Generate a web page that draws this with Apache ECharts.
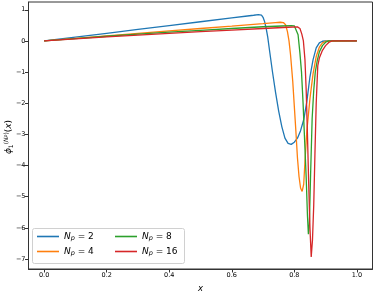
<!DOCTYPE html>
<html><head><meta charset="utf-8">
<script src="https://cdn.jsdelivr.net/npm/echarts@6/dist/echarts.min.js"></script>
<style>html,body{margin:0;padding:0;background:#fff}#c{width:374px;height:291px}</style>
</head><body><div id="c"></div>
<script>
// ---- data ----
var seriesNames = ['N_p = 2', 'N_p = 4', 'N_p = 8', 'N_p = 16'];
var np2X = [0, 0.1, 0.2, 0.3, 0.4, 0.5, 0.6, 0.65, 0.67, 0.685, 0.695, 0.70, 0.705, 0.71, 0.715, 0.72, 0.73, 0.74, 0.75, 0.76, 0.77, 0.78, 0.79, 0.80, 0.81, 0.82, 0.83, 0.84, 0.85, 0.86, 0.87, 0.88, 0.89, 0.90, 1.0];
var np2Y = [0, 0.123, 0.246, 0.369, 0.492, 0.616, 0.739, 0.80, 0.825, 0.845, 0.83, 0.76, 0.62, 0.40, 0.12, -0.25, -0.98, -1.65, -2.25, -2.75, -3.12, -3.29, -3.32, -3.25, -3.12, -2.88, -2.53, -1.95, -1.15, -0.6, -0.22, -0.06, -0.01, 0, 0];
var np4X = [0, 0.1, 0.2, 0.3, 0.4, 0.5, 0.6, 0.7, 0.74, 0.755, 0.765, 0.772, 0.778, 0.783, 0.788, 0.795, 0.80, 0.805, 0.81, 0.815, 0.82, 0.825, 0.83, 0.835, 0.84, 0.85, 0.86, 0.87, 0.88, 0.89, 0.90, 1.0];
var np4Y = [0, 0.08, 0.16, 0.24, 0.32, 0.40, 0.477, 0.556, 0.59, 0.60, 0.59, 0.52, 0.30, 0.0, -0.45, -1.3, -2.1, -2.9, -3.75, -4.35, -4.72, -4.83, -4.6, -3.7, -2.9, -1.85, -1.05, -0.5, -0.2, -0.06, -0.01, 0];
var np8X = [0, 0.1, 0.2, 0.3, 0.4, 0.5, 0.6, 0.7, 0.76, 0.79, 0.80, 0.806, 0.812, 0.818, 0.823, 0.828, 0.833, 0.838, 0.842, 0.845, 0.848, 0.852, 0.857, 0.862, 0.867, 0.873, 0.88, 0.89, 0.90, 0.91, 1.0];
var np8Y = [0, 0.075, 0.15, 0.22, 0.28, 0.34, 0.40, 0.455, 0.48, 0.49, 0.485, 0.44, 0.2, -0.4, -1.0, -2.0, -3.2, -4.4, -5.6, -6.2, -5.9, -4.3, -2.5, -1.6, -1.0, -0.65, -0.35, -0.15, -0.04, 0, 0];
var np16X = [0, 0.1, 0.2, 0.3, 0.4, 0.5, 0.6, 0.7, 0.78, 0.81, 0.818, 0.824, 0.829, 0.834, 0.838, 0.842, 0.846, 0.85, 0.854, 0.858, 0.862, 0.866, 0.87, 0.875, 0.88, 0.89, 0.90, 0.91, 0.92, 1.0];
var np16Y = [0, 0.065, 0.13, 0.19, 0.245, 0.30, 0.35, 0.40, 0.44, 0.45, 0.40, 0.22, 0.0, -0.6, -1.6, -3.0, -4.6, -6.0, -6.93, -6.4, -5.3, -3.6, -2.0, -0.8, -0.55, -0.3, -0.15, -0.05, 0, 0];
var xTicks = [0, 0.2, 0.4, 0.6, 0.8, 1.0];
var yTicks = [-7, -6, -5, -4, -3, -2, -1, 0, 1];
var colors = ['#1f77b4', '#ff7f0e', '#2ca02c', '#d62728'];

function zip(xs, ys) { return xs.map(function (x, i) { return [x, ys[i]]; }); }
var allX = [np2X, np4X, np8X, np16X];
var allY = [np2Y, np4Y, np8Y, np16Y];

var font = 'DejaVu Sans';
var legendRich = {
  i: { fontFamily: font, fontStyle: 'italic', fontSize: 9, color: '#000' },
  s: { fontFamily: font, fontStyle: 'italic', fontSize: 6.5, color: '#000', verticalAlign: 'bottom', padding: [4, 0, 0, 0] },
  t: { fontFamily: font, fontSize: 9, color: '#000' }
};
function legendFmt(name) {
  var n = name.split(' = ')[1];
  return '{i|N}{s|p}{t| = ' + n + '}';
}
var legendCommon = {
  orient: 'vertical', top: 231, itemWidth: 22, itemHeight: 1.6, itemGap: 4, icon: 'rect',
  formatter: legendFmt, textStyle: { rich: legendRich, lineHeight: 11 }, selectedMode: false, padding: 0
};
var yNameRich = {
  i: { fontFamily: font, fontStyle: 'italic', fontSize: 9, fill: '#000' },
  s: { fontFamily: font, fontSize: 6, fill: '#000', verticalAlign: 'bottom', padding: [5, 0, 0, 0] },
  p: { fontFamily: font, fontSize: 6, fill: '#000', verticalAlign: 'top', padding: [0, 0, 5, 0] },
  pi: { fontFamily: font, fontStyle: 'italic', fontSize: 6, fill: '#000', verticalAlign: 'top', padding: [0, 0, 5, 0] },
  ps: { fontFamily: font, fontStyle: 'italic', fontSize: 4.5, fill: '#000', verticalAlign: 'top', padding: [0, 0, 3, 0] },
  r: { fontFamily: font, fontSize: 9, fill: '#000' },
  ri: { fontFamily: font, fontStyle: 'italic', fontSize: 9, fill: '#000' }
};

var chart = echarts.init(document.getElementById('c'), null, { renderer: 'canvas' });
chart.setOption({
  animation: false,
  color: colors,
  grid: { left: 28.5, right: 1.5, top: 2, bottom: 22, show: true, borderColor: '#333', borderWidth: 1, backgroundColor: 'transparent', containLabel: false, outerBoundsMode: 'none' },
  xAxis: {
    type: 'value', min: -0.05, max: 1.05,
    name: 'x', nameLocation: 'middle', nameGap: 12,
    nameTextStyle: { fontFamily: font, fontStyle: 'italic', fontSize: 8.5, color: '#000' },
    axisLine: { show: true, onZero: false, lineStyle: { color: '#333', width: 1 } },
    axisTick: { show: true, length: 3.5, customValues: xTicks, lineStyle: { color: '#333' } },
    axisLabel: { customValues: xTicks, fontFamily: font, fontSize: 6.5, color: '#000', margin: 3, formatter: function (v) { return v.toFixed(1); } },
    splitLine: { show: false }
  },
  yAxis: {
    type: 'value', min: -7.32, max: 1.25,
    axisLine: { show: true, onZero: false, lineStyle: { color: '#333', width: 1 } },
    axisTick: { show: true, length: 3.5, customValues: yTicks, lineStyle: { color: '#333' } },
    axisLabel: { customValues: yTicks, fontFamily: font, fontSize: 6.5, color: '#000', margin: 3, formatter: function (v) { return String(v).replace('-', '\u2212'); } },
    splitLine: { show: false }
  },
  legend: [
    Object.assign({ data: [seriesNames[0], seriesNames[1]], left: 37 }, legendCommon),
    Object.assign({ data: [seriesNames[2], seriesNames[3]], left: 115 }, legendCommon)
  ],
  graphic: [{
    type: 'rect', left: 32, top: 228, z: 0,
    shape: { width: 152, height: 35, r: 2 },
    style: { fill: 'rgba(255,255,255,0.8)', stroke: '#d0d0d0', lineWidth: 1 }
  }, {
    type: 'text', x: 9, y: 137, rotation: Math.PI / 2, z: 10,
    style: {
      text: '{i|ϕ}{s|1}{p|(}{pi|N}{ps|p}{p|)}{r|(}{ri|x}{r|)}',
      rich: yNameRich, align: 'center', verticalAlign: 'middle', fill: '#000'
    }
  }],
  series: seriesNames.map(function (n, k) {
    return {
      name: n, type: 'line', symbol: 'none', smooth: false,
      lineStyle: { width: 1.3, color: colors[k] },
      itemStyle: { color: colors[k] },
      data: zip(allX[k], allY[k])
    };
  })
});
</script></body></html>
